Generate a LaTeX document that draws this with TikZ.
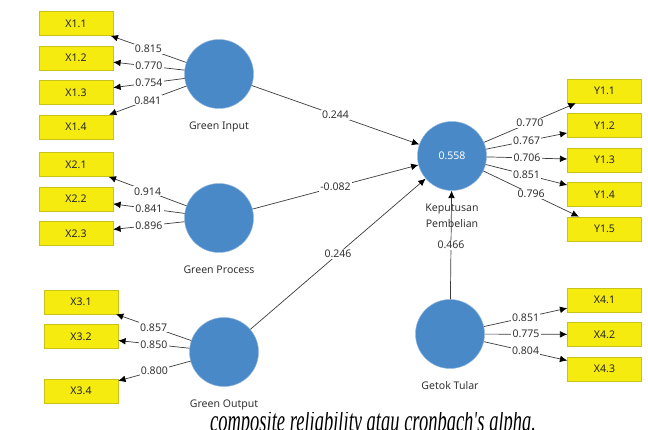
\documentclass[tikz,border=0pt]{standalone}
\usepackage{fontspec}
\setmainfont{Noto Sans}
\newfontfamily\docserif{Liberation Serif}
\usetikzlibrary{arrows.meta, positioning}
\definecolor{plsblue}{HTML}{4A89C8}
\definecolor{plsyellow}{HTML}{F5EB0F}
\definecolor{plsedge}{HTML}{C9C21A}
\definecolor{plsline}{HTML}{3C3C3C}

\begin{document}
\begin{tikzpicture}[
    x=0.03cm, y=-0.03cm,
    node distance=0.3cm,
    font=\fontsize{9}{11}\selectfont,
    latent/.style={circle, fill=plsblue, draw=plsblue!60!white, minimum size=2.07cm, inner sep=0pt},
    indicator/.style={rectangle, fill=plsyellow, draw=plsedge, minimum width=2.22cm, minimum height=0.72cm, inner sep=0pt, text=black!85},
    caption/.style={text=black!80, align=center, font=\fontsize{9}{13.5}\selectfont},
    arrow/.style={-{Latex[length=0.22cm, width=0.2cm, color=black]}, plsline, line width=0.6pt},
    weight/.style={fill=white, inner sep=1pt, text=black!80}
]
\useasboundingbox (0,0) rectangle (648,430);

% latent variables
\node[latent] (gin) at (219,74) {};
\node[latent] (gpr) at (219,218) {};
\node[latent] (gout) at (224,352) {};
\node[latent, text=white] (kp) at (452,156) {0.558};
\node[latent] (gt) at (450,334) {};

\node[caption, below=0.27cm of gin] (gin-l) {Green Input};
\node[caption, below=0.27cm of gpr] (gpr-l) {Green Process};
\node[caption, below=0.27cm of gout] (gout-l) {Green Output};
\node[caption, below=0.27cm of kp] (kp-l) {Keputusan\\Pembelian};
\node[caption, below=0.27cm of gt] (gt-l) {Getok Tular};

% indicators
\node[indicator] (x11) at (76,23.5) {X1.1};
\node[indicator, below=of x11] (x12) {X1.2};
\node[indicator, below=of x12] (x13) {X1.3};
\node[indicator, below=of x13] (x14) {X1.4};

\node[indicator] (x21) at (76,164.5) {X2.1};
\node[indicator, below=of x21] (x22) {X2.2};
\node[indicator, below=of x22] (x23) {X2.3};

\node[indicator] (x31) at (81,302) {X3.1};
\node[indicator, below=of x31] (x32) {X3.2};
\node[indicator] (x34) at (81,391) {X3.4};

\node[indicator] (y11) at (604.5,91) {Y1.1};
\node[indicator, below=of y11] (y12) {Y1.2};
\node[indicator, below=of y12] (y13) {Y1.3};
\node[indicator, below=of y13] (y14) {Y1.4};
\node[indicator, below=of y14] (y15) {Y1.5};

\node[indicator] (x41) at (604.5,300) {X4.1};
\node[indicator, below=of x41] (x42) {X4.2};
\node[indicator, below=of x42] (x43) {X4.3};

% outer loadings
\foreach \ind/\val in {x11/0.815, x12/0.770, x13/0.754, x14/0.841}
    \draw[arrow] (gin) -- node[weight] {\val} (\ind);
\foreach \ind/\val in {x21/0.914, x22/0.841, x23/0.896}
    \draw[arrow] (gpr) -- node[weight] {\val} (\ind);
\foreach \ind/\val in {x31/0.857, x32/0.850, x34/0.800}
    \draw[arrow] (gout) -- node[weight] {\val} (\ind);
\foreach \ind/\val in {y11/0.770, y12/0.767, y13/0.706, y14/0.851, y15/0.796}
    \draw[arrow] (kp) -- node[weight] {\val} (\ind);
\foreach \ind/\val in {x41/0.851, x42/0.775, x43/0.804}
    \draw[arrow] (gt) -- node[weight] {\val} (\ind);

% path coefficients
\draw[arrow] (gin) -- node[weight] {0.244} (kp);
\draw[arrow] (gpr) -- node[weight] {-0.082} (kp);
\draw[arrow] (gout) -- node[weight] {0.246} (kp);
\draw[arrow] (gt) -- node[weight] {0.466} (kp);

% cut-off line of the page below
\begin{scope}
\clip (0,412) rectangle (648,430);
\node[anchor=base west, inner sep=0pt, xscale=0.585, font=\docserif\itshape\fontsize{27}{29}\selectfont] (doc) at (210,431.5) {composite reliability atau cronbach's alpha.};
\end{scope}
\end{tikzpicture}
\end{document}
